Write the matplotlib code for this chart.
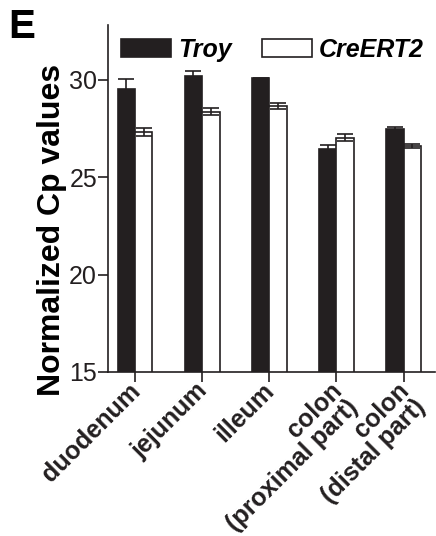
import matplotlib
matplotlib.use("Agg")
import matplotlib.pyplot as plt
import matplotlib.transforms as mtransforms
import numpy as np

plt.rcParams["font.family"] = ["Liberation Sans", "DejaVu Sans"]

regions = ["duodenum", "jejunum", "illeum", "colon\n(proximal part)", "colon\n(distal part)"]
troy = [29.54, 30.20, 30.08, 26.46, 27.48]
troy_err = [0.51, 0.25, 0.02, 0.20, 0.07]
cre = [27.30, 28.37, 28.65, 27.02, 26.60]
cre_err = [0.20, 0.18, 0.15, 0.17, 0.08]

fig = plt.figure(figsize=(4.36, 5.36), dpi=100)
ax = fig.add_axes([0.248, 0.306, 0.75, 0.647])

x = np.arange(len(regions))
w = 0.26
ink = "#231f20"
ax.bar(x - w / 2, troy, w, color=ink, edgecolor=ink, linewidth=1.2,
       yerr=troy_err, error_kw=dict(ecolor=ink, elinewidth=1.2, capsize=5.5, capthick=1.2),
       label="Troy")
ax.bar(x + w / 2, cre, w, color="white", edgecolor=ink, linewidth=1.2,
       yerr=cre_err, error_kw=dict(ecolor=ink, elinewidth=1.2, capsize=5.5, capthick=1.2),
       label="CreERT2")

ax.set_ylim(15, 32.8)
ax.set_xlim(-0.4, 4.47)
ax.set_yticks([15, 20, 25, 30])
ax.set_xticks(x)
ax.set_xticklabels(regions, rotation=45, ha="right", rotation_mode="anchor",
                   fontsize=18, fontweight="bold", multialignment="right", linespacing=0.95)
ax.tick_params(axis="y", labelsize=18, length=7, width=1.2, colors=ink, pad=1)
ax.tick_params(axis="x", length=7, width=1.2, colors=ink, pad=0)
# nudge the rotated labels up-left a little
shift = mtransforms.ScaledTranslation(-7 / 100, 3 / 100, fig.dpi_scale_trans)
for lab in ax.get_xticklabels():
    lab.set_transform(lab.get_transform() + shift)
for s in ["top", "right"]:
    ax.spines[s].set_visible(False)
for s in ["left", "bottom"]:
    ax.spines[s].set_linewidth(1.2)
    ax.spines[s].set_color(ink)

leg = ax.legend(loc="center left", ncol=2, frameon=False, bbox_to_anchor=(0.015, 0.929),
                handlelength=2.0, handleheight=0.72, columnspacing=1.2, handletextpad=0.3,
                borderaxespad=0.0, borderpad=0.3,
                prop=dict(size=18, weight="bold", style="italic"))

fig.text(0.12, 0.571, "Normalized Cp values", rotation=90, ha="center", va="center",
         fontsize=23, fontweight="bold")
fig.text(0.018, 0.985, "E", ha="left", va="top", fontsize=29, fontweight="bold")

fig.savefig("out.png", dpi=100)
